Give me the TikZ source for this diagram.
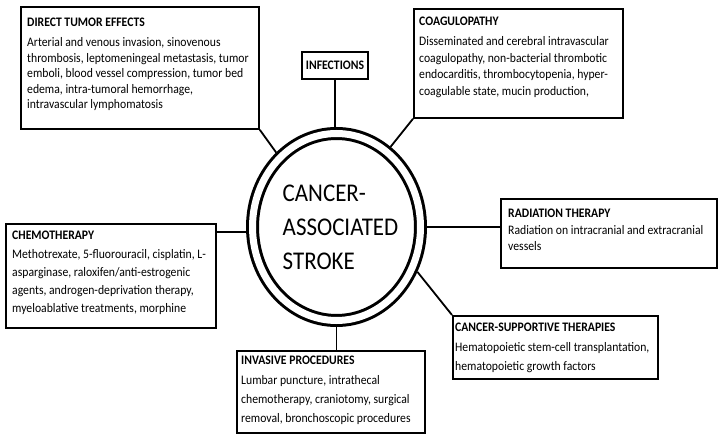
\documentclass[tikz,border=0pt]{standalone}
\usepackage{fontspec}
\setmainfont{Carlito}[FakeStretch=0.9]
\usetikzlibrary{shapes.geometric}
\begin{document}
\begin{tikzpicture}[x=1pt,y=-1pt,
  boxst/.style={draw, line width=1.8pt, inner sep=0pt, anchor=north west},
  txt/.style={anchor=north west, inner sep=0pt, align=left},
  conn/.style={line width=1.8pt},
  circst/.style={ellipse, draw, line width=3pt, double, double distance=7pt, inner sep=0pt,
     minimum width=168pt, minimum height=187pt, outer sep=6.5pt},
  centre/.style={align=left, inner sep=0pt, font=\fontsize{25.5}{34}\selectfont}
]
\useasboundingbox (0,0) rectangle (718,438);
% boxes
\node[boxst, minimum width=238pt, minimum height=122pt] (dte) at (20,6) {};
\node[boxst, minimum width=209pt, minimum height=109pt] (coag) at (413,8) {};
\node[boxst, minimum width=66pt, minimum height=27pt, anchor=center, font=\fontsize{13}{14}\selectfont\bfseries] (inf) at (335,65.5) {INFECTIONS};
\node[boxst, minimum width=210pt, minimum height=104pt] (chemo) at (5,223) {};
\node[boxst, minimum width=216pt, minimum height=69pt] (rad) at (500,198) {};
\node[boxst, minimum width=205pt, minimum height=63pt] (sup) at (452,315) {};
\node[boxst, minimum width=188pt, minimum height=82pt] (inv) at (236,350) {};
% texts
\node[txt, font=\fontsize{13}{15.5}\selectfont] (dtet) at (27,18) {\textbf{DIRECT TUMOR EFFECTS}\\[4.5pt]Arterial and venous invasion, sinovenous\\thrombosis, leptomeningeal metastasis, tumor\\emboli, blood vessel compression, tumor bed\\edema, intra-tumoral hemorrhage,\\intravascular lymphomatosis};
\node[txt, font=\fontsize{13}{16.8}\selectfont] (coagt) at (419,17) {\textbf{COAGULOPATHY}\\[2.7pt]Disseminated and cerebral intravascular\\coagulopathy, non-bacterial thrombotic\\endocarditis, thrombocytopenia, hyper-\\coagulable state, mucin production,};
\node[txt, font=\fontsize{13}{18.3}\selectfont] (chemot) at (12,231) {\textbf{CHEMOTHERAPY}\\Methotrexate, 5-fluorouracil, cisplatin, L-\\asparginase, raloxifen/anti-estrogenic\\agents, androgen-deprivation therapy,\\myeloablative treatments, morphine};
\node[txt, font=\fontsize{13}{16.5}\selectfont] (radt) at (508,209) {\textbf{RADIATION THERAPY}\\Radiation on intracranial and extracranial\\vessels};
\node[txt, font=\fontsize{13}{18.5}\selectfont] (supt) at (455,323) {\textbf{CANCER-SUPPORTIVE THERAPIES}\\[1.5pt]Hematopoietic stem-cell transplantation,\\hematopoietic growth factors};
\node[txt, font=\fontsize{13}{19}\selectfont] (invt) at (241,356) {\textbf{INVASIVE PROCEDURES}\\[1pt]Lumbar puncture, intrathecal\\chemotherapy, craniotomy, surgical\\removal, bronchoscopic procedures};
% centre
\node[circst] (circ) at (336.5,227) {};
\node[centre] (circt) at (340.5,227) {CANCER-\\ASSOCIATED\\STROKE};
% connectors
\coordinate (chemoJ) at ([yshift=-9pt]chemo.north east);
\draw[conn] (dte.south east) -- (circ.129);
\draw[conn] (coag.south west) -- (circ.56);
\draw[conn] (inf.south) -- (inf.south |- circ.north);
\draw[conn] (chemoJ) -- (chemoJ -| circ.west);
\draw[conn] (circ.east) -- (circ.east -| rad.west);
\draw[conn] (sup.north west) -- (circ.-29);
\draw[conn] (circ.south) -- (circ.south |- inv.north);
\end{tikzpicture}
\end{document}
